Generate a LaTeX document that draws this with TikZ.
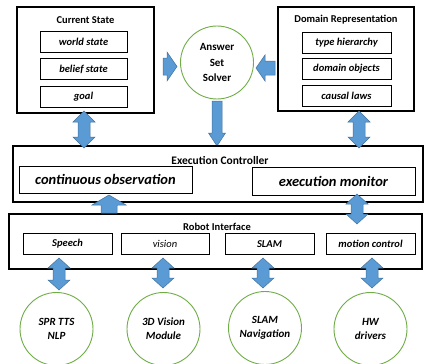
\documentclass[tikz,border=0pt]{standalone}
\usepackage{fontspec}
\setmainfont{Carlito}
\definecolor{arrfill}{HTML}{5B9BD5}
\definecolor{arrdraw}{HTML}{41719C}
\definecolor{cgreen}{HTML}{70AD47}
\tikzset{
  outer/.style={draw=black, line width=1.8pt},
  inner/.style={draw=black, line width=0.8pt, minimum height=21pt, inner sep=0pt, font=\fontsize{10.5}{12}\selectfont\bfseries\itshape},
  bigin/.style={draw=black, line width=0.8pt, inner sep=0pt, font=\fontsize{14.5}{16}\selectfont\bfseries\itshape},
  title/.style={font=\fontsize{10.5}{12}\selectfont\bfseries, inner sep=0pt},
  circ/.style={circle, draw=cgreen, line width=0.9pt, minimum size=73pt, inner sep=0pt, align=center, font=\fontsize{11}{14}\selectfont\bfseries\itshape},
  blk/.style={fill=arrfill, draw=arrdraw, line width=0.5pt},
}
% vertical double arrow: cx, top, bottom, shaft half width, head half width, head length
\newcommand{\dblV}[6]{%
  \draw[blk] ({#1},{#2}) -- ({#1+#5},{#2+#6}) -- ({#1+#4},{#2+#6}) -- ({#1+#4},{#3-#6}) -- ({#1+#5},{#3-#6}) -- ({#1},{#3}) -- ({#1-#5},{#3-#6}) -- ({#1-#4},{#3-#6}) -- ({#1-#4},{#2+#6}) -- ({#1-#5},{#2+#6}) -- cycle;}
\begin{document}
\begin{tikzpicture}[x=1pt,y=-1pt]
\useasboundingbox[fill=white] (0,0) rectangle (424,364);
% Current State
\draw[outer] (17,7) rectangle (154,113);
\node[title] (cst) at (85.5,20) {Current State};
\node[inner, minimum width=87pt] (ws) at (83.5,41.5) {world state};
\node[inner, minimum width=87pt] (bs) at (83.5,69) {belief state};
\node[inner, minimum width=87pt] (gl) at (83.5,96.5) {goal};
% Domain Representation
\draw[outer] (278,7) rectangle (414,111);
\node[title] (drt) at (346,20) {Domain Representation};
\node[inner, minimum width=89pt] (th) at (346.5,42.5) {type hierarchy};
\node[inner, minimum width=89pt] (do) at (346.5,68.5) {domain objects};
\node[inner, minimum width=89pt] (cl) at (346.5,96) {causal laws};
% ASP
\node[circ, font=\fontsize{11}{15.5}\selectfont\bfseries] (asp) at (217,62.5) {Answer\\Set\\Solver};
% horizontal arrows
\draw[blk] (163,58) -- (167,58) -- (167,52) -- (177,66.5) -- (167,81) -- (167,75) -- (163,75) -- cycle;
\draw[blk] (275,61) -- (265,61) -- (265,55) -- (256,68) -- (265,81) -- (265,75) -- (275,75) -- cycle;
% down arrow from ASP
\draw[blk] (212,101) -- (222,101) -- (222,133) -- (225.5,133) -- (217,146) -- (208.5,133) -- (212,133) -- cycle;
% Execution Controller
\draw[outer] (13,146) rectangle (423,202);
\node[font=\fontsize{11.5}{13}\selectfont\bfseries, inner sep=0pt] (ect) at (220,160) {Execution Controller};
\node[bigin, minimum width=173pt, minimum height=27pt] (co) at (105.5,179.5) {continuous observation};
\node[bigin, minimum width=163pt, minimum height=28pt] (em) at (333.5,181) {execution monitor};
% double arrows top
\dblV{84}{111}{148}{6}{11}{11}
\dblV{359}{111}{148}{6}{11}{11}
% Robot Interface
\draw[outer] (9,214) rectangle (422,269);
\node[title] (rit) at (217,227) {Robot Interface};
\node[inner, minimum width=89pt] (sp) at (67.5,243.5) {Speech};
\node[inner, minimum width=88pt, font=\fontsize{10.5}{12}\selectfont\itshape] (vi) at (165,243.5) {vision};
\node[inner, minimum width=89pt] (sl) at (269.5,244) {SLAM};
\node[inner, minimum width=89pt] (mc) at (370.5,244) {motion control};
% up arrow to continuous observation
\draw[blk] (101,213) -- (117,213) -- (117,205) -- (126,205) -- (109,195) -- (92,205) -- (101,205) -- cycle;
% double arrow exec monitor <-> RI
\dblV{357}{194}{224}{6}{11}{10}
% bottom double arrows
\dblV{59}{258}{290}{6}{11}{10}
\dblV{163}{258}{288}{6}{11}{10}
\dblV{263}{258}{288}{6}{11}{10}
\dblV{372}{258}{288}{6}{11}{10}
% bottom circles
\node[circ] (c1) at (56.5,329) {SPR TTS\\NLP};
\node[circ] (c2) at (163.5,329) {3D Vision\\Module};
\node[circ] (c3) at (265,328) {SLAM\\Navigation};
\node[circ] (c4) at (370.5,329) {HW\\drivers};
\end{tikzpicture}
\end{document}
